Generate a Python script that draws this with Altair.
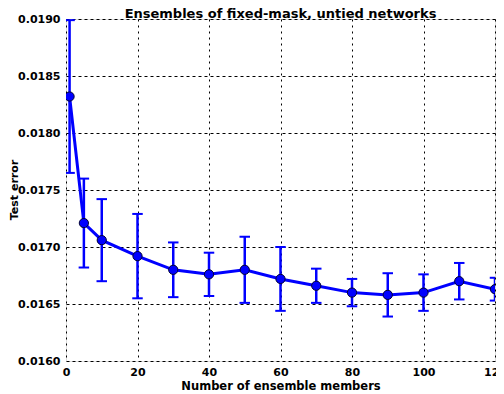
import altair as alt
import pandas as pd

members = [1, 5, 10, 20, 30, 40, 50, 60, 70, 80, 90, 100, 110, 120]
test_error = [0.01832, 0.01721, 0.01706, 0.01692, 0.01680, 0.01676, 0.01680, 0.01672,
              0.01666, 0.01660, 0.01658, 0.01660, 0.01670, 0.01663]
err = [0.00067, 0.00039, 0.00036, 0.00037, 0.00024, 0.00019, 0.00029, 0.00028,
       0.00015, 0.00012, 0.00019, 0.00016, 0.00016, 0.00010]
title_text = ["Ensembles of fixed-mask, untied networks"]
y_title = ["Test error"]

df = pd.DataFrame({"n": members, "e": test_error, "d": err})
df["lo"] = df["e"] - df["d"]
df["hi"] = df["e"] + df["d"]

BLUE = "#0000ff"
xs = alt.Scale(domain=[0, 120], nice=False, zero=False)
ys = alt.Scale(domain=[0.0160, 0.0190], nice=False, zero=False)

base = alt.Chart(df)

xax = alt.Axis(values=[0, 20, 40, 60, 80, 100, 120], title="Number of ensemble members",
               grid=True, gridDash=[2, 4], gridColor="black", gridOpacity=1, gridWidth=1,
               ticks=False, domain=False, labelPadding=5, titlePadding=3,
               labelFont="DejaVu Sans", labelFontWeight="bold", labelFontSize=11, labelColor="black",
               titleFont="DejaVu Sans", titleFontWeight="bold", titleFontSize=11.5, titleColor="black",
               labelFlush=False)
yax = alt.Axis(values=[0.0160, 0.0165, 0.0170, 0.0175, 0.0180, 0.0185, 0.0190], format=".4f",
               title=None,
               grid=True, gridDash=[3, 3], gridColor="black", gridOpacity=1, gridWidth=1,
               ticks=False, domain=False, labelPadding=6,
               labelFont="DejaVu Sans", labelFontWeight="bold", labelFontSize=11, labelColor="black",
               labelFlush=False)

bars = base.mark_rule(color=BLUE, strokeWidth=2.5, clip=True).encode(
    x=alt.X("n:Q", scale=xs, axis=xax),
    y=alt.Y("lo:Q", scale=ys, axis=yax),
    y2="hi:Q",
)
caps_top = base.mark_point(shape="M-1,0L1,0", size=110, strokeWidth=2, color=BLUE,
                           filled=False, opacity=1, clip=True).encode(
    x=alt.X("n:Q", scale=xs), y=alt.Y("hi:Q", scale=ys))
caps_bot = base.mark_point(shape="M-1,0L1,0", size=110, strokeWidth=2, color=BLUE,
                           filled=False, opacity=1, clip=True).encode(
    x=alt.X("n:Q", scale=xs), y=alt.Y("lo:Q", scale=ys))
line = base.mark_line(color=BLUE, strokeWidth=3, clip=True).encode(
    x=alt.X("n:Q", scale=xs), y=alt.Y("e:Q", scale=ys))
pts = base.mark_circle(size=85, color=BLUE, opacity=1, stroke="#000033", strokeWidth=1,
                       clip=True).encode(
    x=alt.X("n:Q", scale=xs), y=alt.Y("e:Q", scale=ys))

title_mark = alt.Chart(pd.DataFrame({"t": title_text})).mark_text(
    font="DejaVu Sans", fontSize=13, fontWeight="bold", color="black",
    baseline="alphabetic", align="center"
).encode(text="t:N", x=alt.value(214.5), y=alt.value(-1))

ytitle_mark = alt.Chart(pd.DataFrame({"t": y_title})).mark_text(
    font="DejaVu Sans", fontSize=11, fontWeight="bold", color="black", baseline="top",
    align="center", angle=270
).encode(text="t:N", x=alt.value(-57), y=alt.value(171))

chart = alt.layer(bars, caps_top, caps_bot, line, pts, title_mark, ytitle_mark).properties(
    width=429, height=342,
    autosize=alt.AutoSizeParams(type="none"),
    padding={"left": 58, "top": 11, "right": 1, "bottom": 33},
).configure_view(stroke="black", strokeWidth=3).configure(background="white")

chart.save("out.html", embed_options={"renderer": "svg", "actions": False})
